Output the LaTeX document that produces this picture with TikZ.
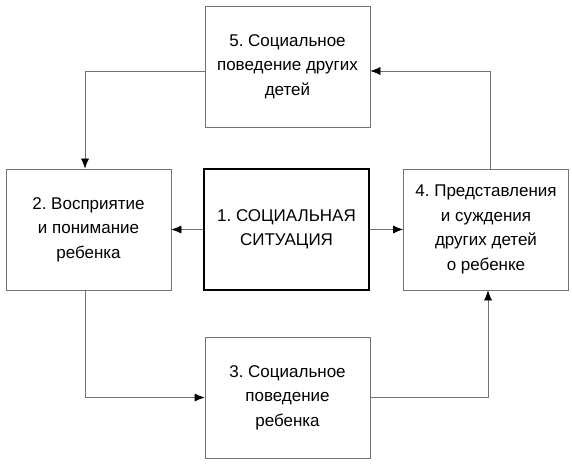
\documentclass[tikz,border=0pt]{standalone}
\usepackage{fontspec}
\setmainfont{Liberation Sans}
\usetikzlibrary{arrows.meta}
\frenchspacing

\tikzstyle{every node}=[font=\fontsize{17}{24.5}\selectfont, inner sep=0pt, align=center]
\tikzstyle{stage}=[draw=black!55, line width=0.7pt, minimum width=165pt, minimum height=121pt]
\tikzstyle{core}=[draw=black, line width=1.6pt, minimum width=165pt, minimum height=121pt]
\tikzstyle{link}=[draw=black!55, line width=0.7pt, -{Latex[length=10pt,width=8pt,black]}]

\begin{document}
\begin{tikzpicture}[x=1pt, y=-1pt]
  \useasboundingbox (0,0) rectangle (572,465);
  \node[core] (situation) at (286.5,229.5) {1. СОЦИАЛЬНАЯ\\СИТУАЦИЯ};
  \node[stage] (perception) at (88.5,229.5) {2. Восприятие\\и понимание\\ребенка};
  \node[stage] (behaviour) at (287.5,397.5) {3. Социальное\\поведение\\ребенка};
  \node[stage] (judgement) at (486,229.5) {4. Представления\\и суждения\\других детей\\о ребенке};
  \node[stage] (others) at (287.5,66.5) {5. Социальное\\поведение других\\детей};

  \draw[link] (situation) -- (perception);
  \draw[link] (situation) -- (judgement);
  \draw[link] ([xshift=-3.5pt]perception.south) |- (behaviour.west);
  \draw[link] (behaviour.east) -| ([xshift=2pt]judgement.south);
  \draw[link] ([xshift=4.5pt]judgement.north) |- ([yshift=-4.5pt]others.east);
  \draw[link] ([yshift=-4.5pt]others.west) -| ([xshift=-3.5pt]perception.north);
\end{tikzpicture}
\end{document}
